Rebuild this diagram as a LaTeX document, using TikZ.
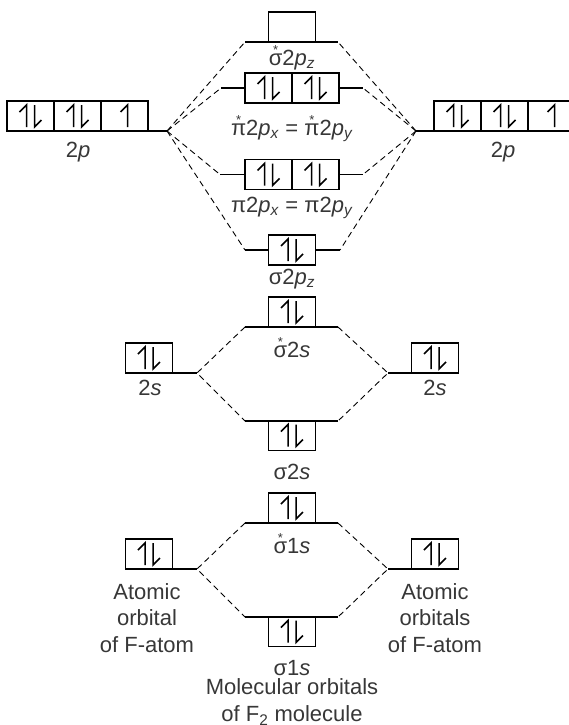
\documentclass[tikz,border=0pt]{standalone}
\usepackage{fontspec}
\setmainfont{Liberation Sans}
\usetikzlibrary{positioning,calc}
\definecolor{gristexte}{RGB}{55,55,55}
\newcommand{\etoile}[1]{\ooalign{#1\cr\hidewidth\raisebox{.5em}{\fontsize{13}{13}\selectfont *}\hidewidth\cr}}
\newcommand{\orb}[2]{2\textit{#1}\textsubscript{\textit{#2}}}

\begin{document}
\begin{tikzpicture}[x=1pt,y=-1pt,
	case/.style={draw,line width=1.1pt,minimum width=47pt,minimum height=30pt,inner sep=0pt,outer sep=0pt},
	fleche/.style={line width=1.5pt,line join=miter},
	doublet/.style={case,path picture={
		\draw[fleche]($(path picture bounding box.center)+(-4pt,-11pt)$)--++(0pt,22pt)--++(-7pt,-7pt);
		\draw[fleche]($(path picture bounding box.center)+(4pt,11pt)$)--++(0pt,-22pt)--++(7pt,7pt);}},
	simple/.style={case,path picture={
		\draw[fleche]($(path picture bounding box.center)+(3pt,-11pt)$)--++(0pt,22pt)--++(-7pt,-7pt);}},
	niveau/.style={line width=1.1pt},
	liaison/.style={dash pattern=on 6pt off 4pt,line width=0.9pt},
	lbl/.style={text=gristexte,align=center,inner sep=0pt,font=\fontsize{22}{26.5}\selectfont}]
	\useasboundingbox (0,0) rectangle (568,725);

	% --- niveaux 2p
	\node[case] (sa2p) at (292,27){};
	\coordinate (sa2pg) at (245,42);
	\coordinate (sa2pd) at (338,42);
	\draw[niveau](sa2pg)--(sa2pd);
	\node[lbl] at (292,60){\etoile{σ}\orb{p}{z}};

	\node[doublet] (pia1) at (268.5,88){};
	\node[doublet,right=0pt of pia1] (pia2){};
	\coordinate (piag) at (221,88);
	\coordinate (piad) at (363,88);
	\draw[niveau](piag)--(pia1.west);
	\draw[niveau](pia2.east)--(piad);
	\node[lbl] at (292,131){\etoile{π}\orb{p}{x} = \etoile{π}\orb{p}{y}};

	\node[simple] (g2p3) at (124.5,116){};
	\node[doublet,left=0pt of g2p3] (g2p2){};
	\node[doublet,left=0pt of g2p2] (g2p1){};
	\coordinate (g2p) at (167,131);
	\draw[niveau](g2p3.south east)--(g2p);
	\node[lbl] at (78,152){2\textit{p}};

	\node[doublet] (d2p1) at (457.5,116){};
	\node[doublet,right=0pt of d2p1] (d2p2){};
	\node[simple,right=0pt of d2p2] (d2p3){};
	\coordinate (d2p) at (416,131);
	\draw[niveau](d2p)--(d2p1.south west);
	\node[lbl] at (503,152){2\textit{p}};

	\node[doublet] (pil1) at (268.5,174.5){};
	\node[doublet,right=0pt of pil1] (pil2){};
	\coordinate (pilg) at (220,174.5);
	\coordinate (pild) at (363,174.5);
	\draw[niveau](pilg)--(pil1.west);
	\draw[niveau](pil2.east)--(pild);
	\node[lbl] at (292,208){π\orb{p}{x} = π\orb{p}{y}};

	\node[doublet] (sl2p) at (292,250){};
	\coordinate (sl2pg) at (245,250);
	\coordinate (sl2pd) at (340,250);
	\draw[niveau](sl2pg)--(sl2p.west);
	\draw[niveau](sl2p.east)--(sl2pd);
	\node[lbl] at (292,279){σ\orb{p}{z}};

	\foreach \c in {sa2pg,piag,pilg,sl2pg}
		\draw[liaison](g2p)--(\c);
	\foreach \c in {sa2pd,piad,pild,sl2pd}
		\draw[liaison](d2p)--(\c);

	% --- niveaux 2s et 1s
	\foreach \n/\y in {2/0,1/196}{
		\node[doublet] (sa\n s) at (292,312+\y){};
		\coordinate (sa\n sg) at (245,327+\y);
		\coordinate (sa\n sd) at (338,327+\y);
		\draw[niveau](sa\n sg)--(sa\n sd);
		\node[lbl] at (292,350+\y){\etoile{σ}\n\textit{s}};

		\node[doublet] (g\n s) at (149,358+\y){};
		\coordinate (g\n sc) at (197,373+\y);
		\draw[niveau](g\n s.south east)--(g\n sc);

		\node[doublet] (d\n s) at (435,358+\y){};
		\coordinate (d\n sc) at (388,373+\y);
		\draw[niveau](d\n sc)--(d\n s.south west);

		\node[doublet] (sl\n s) at (292,435.5+\y){};
		\coordinate (sl\n sg) at (245,421+\y);
		\coordinate (sl\n sd) at (338,421+\y);
		\draw[niveau](sl\n sg)--(sl\n sd);
		\node[lbl] at (292,472+\y){σ\n\textit{s}};

		\draw[liaison](sa\n sg)--(g\n sc)--(sl\n sg);
		\draw[liaison](sa\n sd)--(d\n sc)--(sl\n sd);
	}
	\node[lbl] at (150,388){2\textit{s}};
	\node[lbl] at (435,388){2\textit{s}};

	% --- legendes
	\node[lbl] at (147,618){Atomic\\orbital\\of F-atom};
	\node[lbl] at (435,618){Atomic\\orbitals\\of F-atom};
	\node[lbl] at (292,702){Molecular orbitals\\of F\textsubscript{2} molecule};
\end{tikzpicture}
\end{document}
